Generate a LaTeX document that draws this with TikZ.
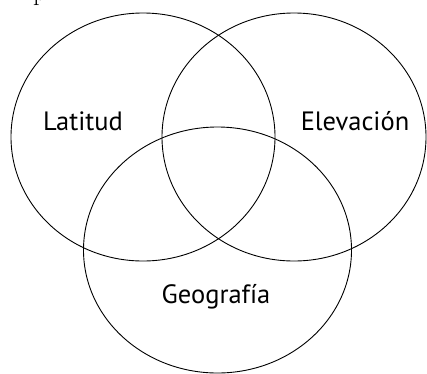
\documentclass[tikz,border=0pt]{standalone}
\usepackage{fontspec}
\setsansfont{PT Sans}
\usetikzlibrary{shapes.geometric}

\begin{document}
\begin{tikzpicture}[
  x=1pt, y=-1pt,
  set/.style={ellipse, draw, line width=0.9pt, inner sep=0pt, outer sep=0pt,
    minimum width=264pt, minimum height=248pt},
  setname/.style={font=\sffamily\fontsize{26.5}{30}\selectfont, anchor=base}
]
\useasboundingbox (0,0) rectangle (427,373);
% the three sets
\node[set] (lat) at (143,137) {};
\node[set] (elev) at (294,137) {};
\node[set, minimum width=268pt, minimum height=246pt] (geo) at (217.5,250) {};
% their names
\node[setname] (latname) at (83,130) {Latitud};
\node[setname] (elevname) at (355,130) {Elevación};
\node[setname] (geoname) at (216,303) {Geografía};
% cut off text above
\node[anchor=base west, inner sep=0pt, font=\fontsize{26}{30}\selectfont] (frag) at (33,0) {p};
\end{tikzpicture}
\end{document}
